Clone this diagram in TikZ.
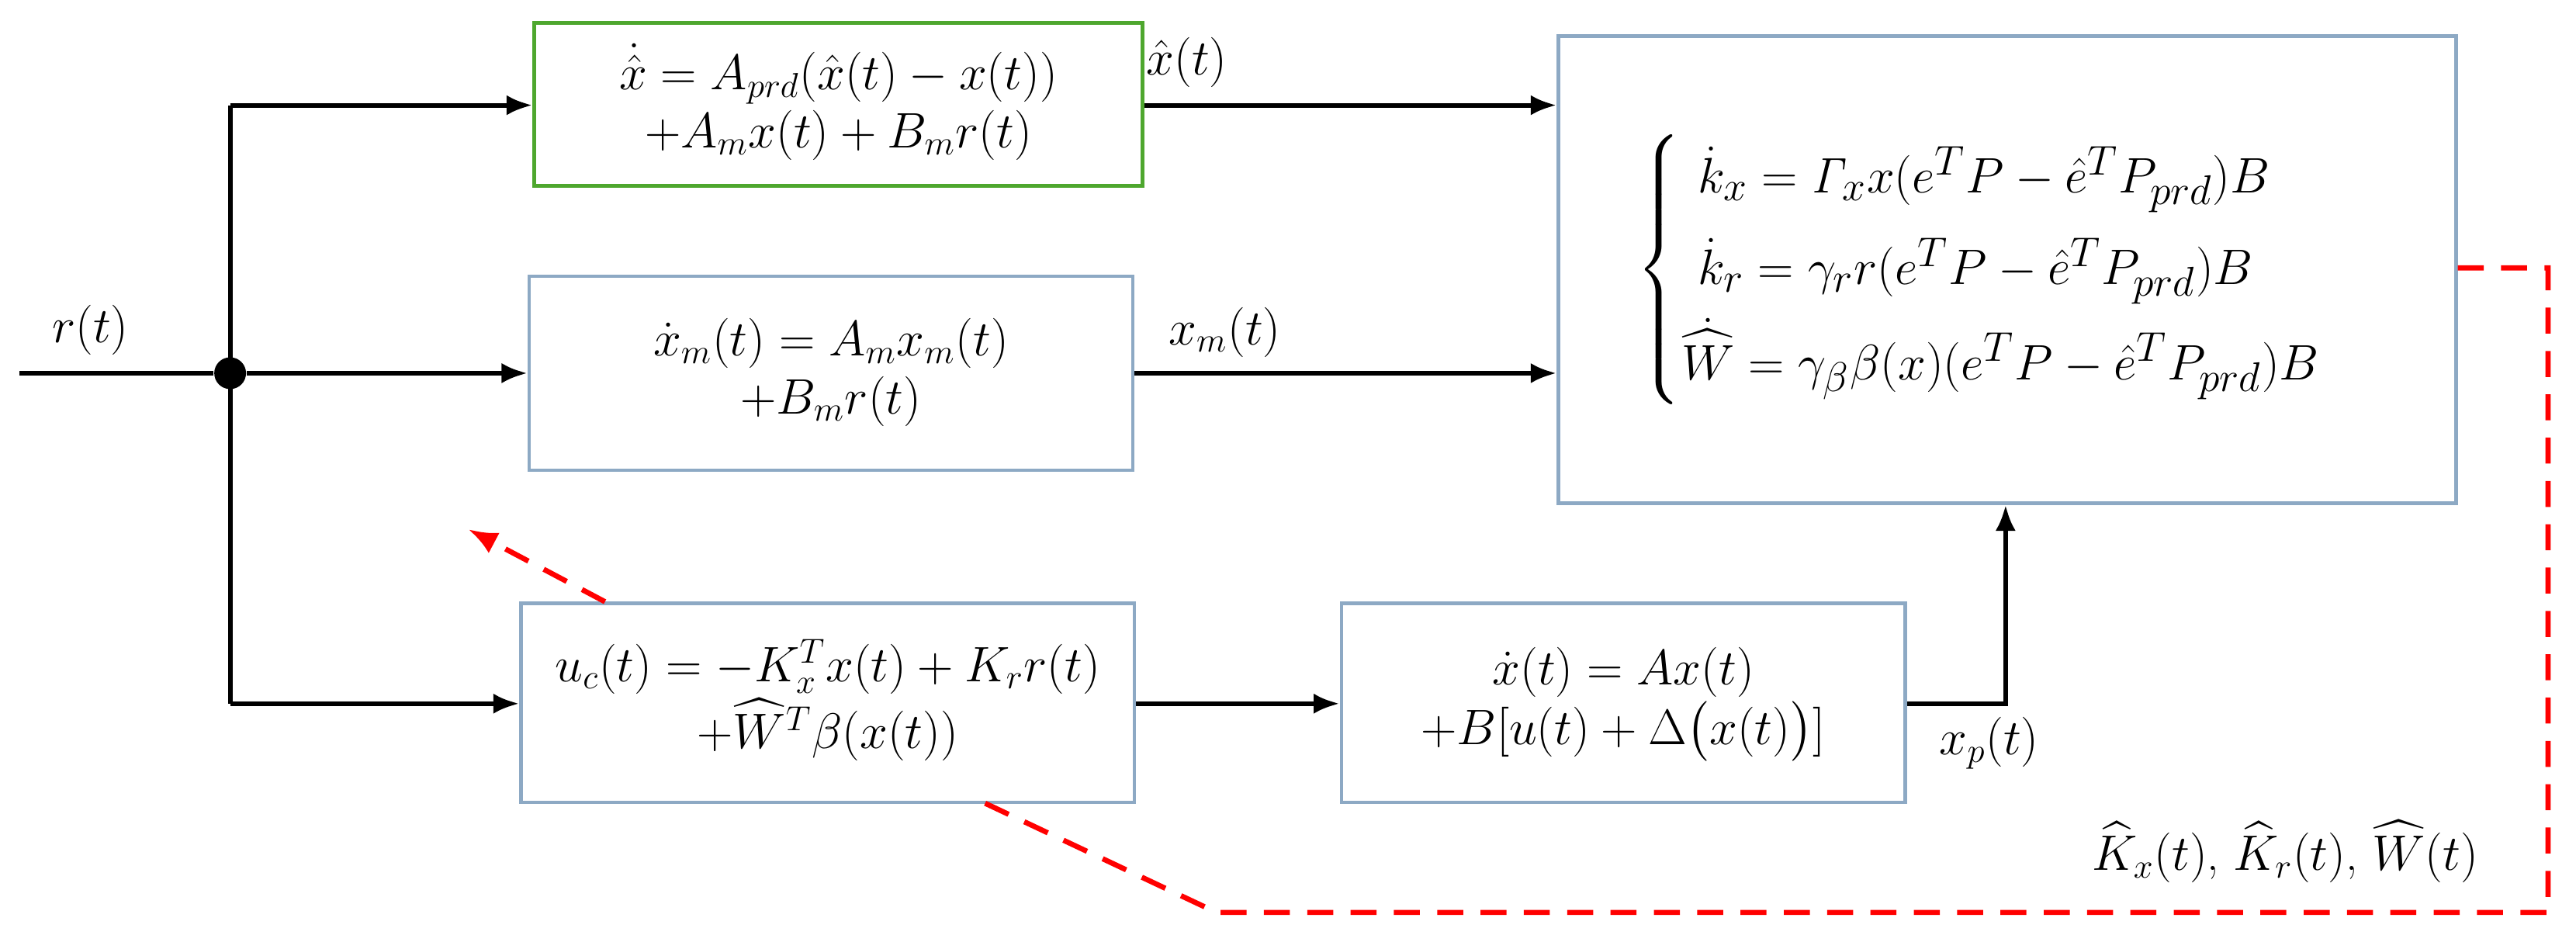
\documentclass[tikz,border=0pt]{standalone}
\usepackage{amsmath}
\usetikzlibrary{arrows.meta}
\definecolor{bbox}{HTML}{8DA9C4}
\definecolor{gbox}{HTML}{4EA72E}
\begin{document}
\begin{tikzpicture}[x=0.02cm,y=-0.02cm,
  box/.style={draw=bbox,line width=1.2pt,inner sep=0pt},
  wire/.style={line width=1.6pt,-{Latex[length=9pt,width=7pt]}},
  red/.style={draw=red,line width=1.8pt,dash pattern=on 9pt off 6pt},
  lab/.style={font=\fontsize{16.5}{20}\selectfont}]
\useasboundingbox (0,0) rectangle (1567,577);
\fontsize{16.5}{20}\selectfont
\node[box,draw=gbox,minimum width=370*0.02cm,minimum height=99*0.02cm] (g) at (510,63.5)
 {$\begin{array}{c}\dot{\hat{x}}=A_{prd}(\hat{x}(t)-x(t))\\+A_m x(t)+B_m r(t)\end{array}$};
\node[box,minimum width=367*0.02cm,minimum height=118*0.02cm] (m) at (505.5,227)
 {$\begin{array}{c}\dot{x}_m(t)=A_m x_m(t)\\+B_m r(t)\end{array}$};
\node[box,minimum width=546*0.02cm,minimum height=284*0.02cm] (a) at (1221,164)
 {\fontsize{19}{24}\selectfont$\begin{cases}\ \dot{k}_x=\mathit{\Gamma}_x x(e^TP-\hat{e}^TP_{prd})B\\[3pt]\ \dot{k}_r=\gamma_r r(e^TP-\hat{e}^TP_{prd})B\\[3pt]\dot{\widehat{W}}=\gamma_\beta\beta(x)(e^TP-\hat{e}^TP_{prd})B\end{cases}$};
\node[box,minimum width=373*0.02cm,minimum height=121*0.02cm] (u) at (503.5,427.5)
 {$\begin{array}{c}u_c(t)=-K_x^Tx(t)+K_r r(t)\\+\widehat{W}^T\beta(x(t))\end{array}$};
\node[box,minimum width=343*0.02cm,minimum height=121*0.02cm] (p) at (987.5,427.5)
 {$\begin{array}{c}\dot{x}(t)=Ax(t)\\+B[u(t)+\Delta\bigl(x(t)\bigr)]\end{array}$};
\coordinate (in) at (12,227);
\node[circle,fill,inner sep=0pt,minimum size=11pt] (d) at (140,227) {};
\coordinate (t) at (140,64); \coordinate (b) at (140,428);
\draw[line width=1.6pt] (in) -- (d);
\draw[line width=1.6pt] (t) -- (b);
\node[lab] (rl) at (55,201) {$r(t)$};
\draw[wire] (t) -- (g.west|-t);
\draw[wire] (d) -- (m.west|-d);
\draw[wire] (b) -- (u.west|-b);
\draw[wire] (g.east|-t) -- (a.west|-t);
\node[lab] (xh) at (722,38) {$\hat{x}(t)$};
\draw[wire] (m.east|-d) -- (a.west|-d);
\node[lab] (xm) at (745,202) {$x_m(t)$};
\draw[wire] (u.east|-b) -- (p.west|-b);
\coordinate (c1) at (1220,428);
\draw[wire] (p.east|-b) -- (c1) -- (c1|-a.south);
\node[lab] (xp) at (1210,452) {$x_p(t)$};
\coordinate (r1) at (1550,163); \coordinate (r2) at (1550,555); \coordinate (r3) at (740,555);
\draw[red] (a.east|-r1) -- (r1) -- (r2) -- (r3) -- (598,488);
\coordinate (s1) at (368,366); \coordinate (s2) at (285,322);
\draw[red,-{Latex[length=10pt,width=8pt]}] (s1) -- (s2);
\node[lab] (kl) at (1390,518) {$\widehat{K}_x(t)$, $\widehat{K}_r(t)$, $\widehat{W}(t)$};
\end{tikzpicture}
\end{document}
